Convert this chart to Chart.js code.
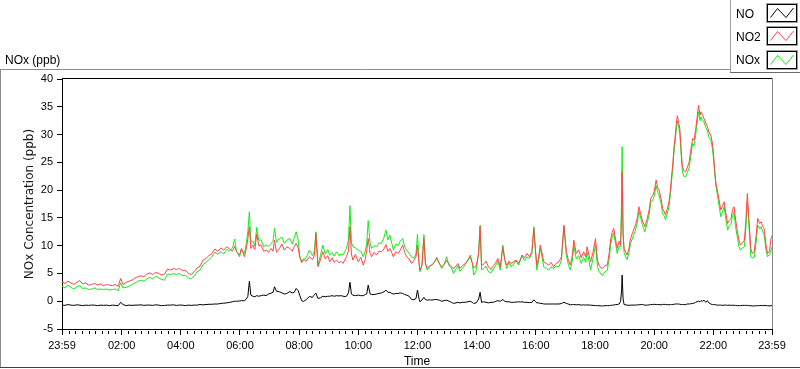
<!DOCTYPE html>
<html>
<head>
<meta charset="utf-8">
<script src="https://cdn.jsdelivr.net/npm/chart.js@4"></script>
<style>
html,body{margin:0;padding:0;background:#fff;}
#wrap{position:relative;width:800px;height:369px;}
</style>
</head>
<body>
<div id="wrap"><canvas id="c" width="800" height="369"></canvas></div>
<script>
// minutes after 23:59 of previous day
const TIME = [
  0,6,12,18,24,30,36,42,48,54,
  60,66,72,78,84,90,96,102,108,114,
  119,124,130,136,142,148,154,160,166,172,
  178,184,190,196,202,208,214,220,226,232,
  238,244,250,256,262,268,274,280,286,292,
  298,304,310,316,322,328,334,340,346,350,
  354,360,364,370,374,377,380,383,387,391,
  395,399,404,409,414,419,424,428,431,435,
  441,446,451,456,462,467,471,475,479,482,
  486,490,495,502,508,512,515,519,524,529,
  534,539,543,548,552,557,562,566,570,574,
  577,581,584,587,590,595,601,606,611,615,
  618,621,625,628,633,638,643,648,653,657,
  661,665,669,672,677,682,686,691,695,699,
  704,709,714,718,721,724,726,730,734,737,
  741,746,750,755,760,765,770,775,780,785,
  790,794,799,803,807,812,818,823,828,832,
  835,840,845,848,851,855,860,865,870,875,
  880,884,889,894,898,902,907,911,916,921,
  926,930,933,938,943,948,953,957,960,963,
  967,970,974,977,982,987,992,997,1002,1008,
  1013,1018,1023,1027,1031,1035,1038,1043,1048,1053,
  1058,1062,1065,1069,1072,1077,1082,1086,1089,1093,
  1096,1101,1106,1110,1113,1116,1119,1123,1126,1130,
  1133,1135,1136,1138,1140,1146,1150,1153,1158,1163,
  1167,1170,1174,1177,1182,1187,1191,1194,1198,1201,
  1205,1208,1211,1215,1218,1221,1224,1228,1231,1234,
  1236,1239,1241,1244,1246,1248,1251,1253,1256,1258,
  1261,1265,1268,1272,1275,1279,1282,1285,1288,1291,
  1294,1296,1299,1302,1306,1309,1312,1316,1319,1321,
  1324,1326,1329,1331,1334,1336,1339,1343,1346,1350,
  1353,1357,1360,1363,1366,1370,1373,1376,1380,1384,
  1387,1390,1393,1397,1400,1404,1408,1411,1415,1418,
  1421,1424,1428,1431,1435,1438,1440
];
const NO = [
  -0.7,-0.75,-0.6,-0.7,-0.75,-0.65,-0.7,-0.8,-0.7,-0.75,
  -0.7,-0.7,-0.8,-0.7,-0.75,-0.7,-0.8,-0.7,-0.75,-0.8,
  -0.2,-0.6,-0.8,-0.7,-0.75,-0.7,-0.7,-0.65,-0.75,-0.7,
  -0.7,-0.75,-0.65,-0.7,-0.8,-0.75,-0.7,-0.7,-0.65,-0.75,
  -0.7,-0.7,-0.8,-0.7,-0.75,-0.7,-0.7,-0.6,-0.65,-0.6,
  -0.55,-0.55,-0.5,-0.5,-0.4,-0.35,-0.3,-0.2,-0.1,0.0,
  0.0,0.05,0.1,0.1,0.4,0.9,3.6,1.1,0.9,0.8,
  1.0,0.9,1.0,1.1,1.0,1.3,1.45,1.6,2.6,1.8,
  1.7,1.5,1.3,1.4,1.75,1.5,1.6,2.3,1.9,1.1,
  0.1,-0.05,0.3,0.85,0.7,1.2,1.45,0.5,0.6,0.9,
  0.8,0.9,0.9,1.0,0.9,1.0,0.95,1.0,0.9,0.85,
  0.9,1.5,3.4,1.3,1.1,1.0,1.1,1.0,1.0,1.2,
  1.3,2.9,1.3,1.2,1.2,1.3,1.4,1.5,1.7,2.0,
  1.6,1.6,1.4,1.3,1.4,1.4,1.5,1.4,1.2,1.1,
  0.9,0.3,0.3,0.5,2.0,0.5,-0.1,0.2,0.7,0.3,
  0.2,0.25,0.2,0.3,0.3,0.2,0.0,0.1,0.2,0.0,
  -0.2,-0.4,-0.3,-0.2,-0.3,-0.2,-0.2,-0.1,0.0,-0.2,
  -0.4,-0.3,0.4,1.6,-0.2,-0.1,-0.2,-0.3,-0.2,-0.2,
  0.0,0.1,0.0,0.3,0.0,-0.1,-0.1,-0.2,-0.2,-0.15,
  -0.1,-0.15,-0.1,-0.2,-0.2,-0.25,-0.2,0.25,0.0,-0.3,
  -0.3,-0.4,-0.4,-0.5,-0.5,-0.5,-0.5,-0.5,-0.5,-0.5,
  -0.4,-0.2,-0.4,-0.5,-0.65,-0.6,-0.6,-0.65,-0.6,-0.7,
  -0.65,-0.7,-0.65,-0.7,-0.7,-0.75,-0.8,-0.8,-0.8,-0.85,
  -0.85,-0.8,-0.8,-0.8,-0.75,-0.7,-0.7,-0.6,-0.6,-0.5,
  0.0,2.0,4.7,0.4,-0.6,-0.7,-0.75,-0.7,-0.7,-0.7,
  -0.65,-0.65,-0.6,-0.6,-0.7,-0.7,-0.65,-0.6,-0.6,-0.55,
  -0.6,-0.6,-0.6,-0.65,-0.6,-0.55,-0.6,-0.6,-0.65,-0.6,
  -0.6,-0.6,-0.55,-0.5,-0.5,-0.5,-0.5,-0.55,-0.6,-0.6,
  -0.6,-0.6,-0.5,-0.5,-0.45,-0.4,-0.35,-0.2,-0.1,0.0,
  -0.1,0.1,0.0,0.2,-0.2,0.1,-0.3,-0.5,-0.6,-0.6,
  -0.6,-0.65,-0.7,-0.7,-0.7,-0.7,-0.75,-0.7,-0.7,-0.75,
  -0.7,-0.75,-0.7,-0.75,-0.75,-0.8,-0.8,-0.8,-0.75,-0.75,
  -0.75,-0.75,-0.8,-0.8,-0.85,-0.85,-0.8,-0.8,-0.8,-0.75,
  -0.8,-0.75,-0.8,-0.8,-0.85,-0.8,-0.8
];
const NO2 = [
  3.5,3.2,3.6,3.3,3.0,3.4,3.7,3.1,3.3,2.9,
  3.0,3.2,2.9,3.1,2.8,3.0,2.9,2.8,3.0,2.7,
  4.1,3.0,3.4,3.6,3.8,4.2,4.4,4.6,4.4,4.9,
  5.1,4.8,5.2,5.0,4.7,4.9,5.8,5.6,5.9,5.7,
  5.9,5.5,5.6,5.0,4.8,5.3,6.0,6.3,7.4,7.7,
  8.2,8.6,9.4,9.0,9.6,9.2,9.8,9.4,9.0,9.9,
  9.0,8.3,9.5,8.0,9.6,11.3,13.4,9.5,10.1,9.3,
  12.1,10.0,10.1,9.0,9.2,8.8,9.5,9.0,11.0,8.8,
  9.5,10.3,9.2,9.8,9.5,9.0,9.8,10.4,9.6,8.0,
  7.1,7.6,7.2,8.0,7.5,8.2,12.2,6.2,7.4,8.9,
  7.6,8.2,7.1,7.8,7.0,7.4,6.9,7.2,6.8,7.5,
  8.0,9.0,13.4,8.5,7.4,8.4,7.1,7.9,6.5,7.5,
  9.2,11.3,8.6,8.0,8.8,8.3,9.0,8.9,9.4,10.2,
  9.0,9.5,8.7,8.0,8.9,8.6,9.2,10.1,8.8,8.0,
  7.6,6.8,7.4,8.0,10.1,7.0,5.6,6.4,11.3,6.8,
  5.9,6.4,6.5,7.0,7.7,6.8,6.2,6.6,7.4,6.6,
  6.2,5.9,6.3,6.8,5.9,6.4,6.8,7.4,8.0,7.0,
  6.0,6.3,8.5,13.4,6.5,6.6,7.2,6.2,5.7,6.4,
  7.0,7.7,6.2,9.8,7.5,6.5,7.2,6.8,7.1,7.4,
  6.8,7.6,8.3,7.8,8.6,8.0,8.9,13.1,9.5,6.5,
  8.1,10.1,8.5,7.1,6.8,6.5,7.0,6.2,6.8,7.1,
  8.0,13.7,8.9,7.4,6.5,8.2,11.0,8.6,9.2,7.8,
  8.9,8.0,9.8,8.2,7.1,8.8,11.3,7.4,6.5,6.0,
  5.9,6.4,6.5,8.8,11.3,12.4,13.1,11.0,9.5,10.8,
  10.1,16.0,23.3,12.0,9.5,8.3,9.5,11.3,12.5,13.7,
  15.0,17.0,15.6,14.6,13.4,14.9,16.5,18.5,19.0,19.7,
  21.8,20.5,20.0,18.5,16.7,16.2,15.5,16.8,17.9,20.0,
  22.1,25.0,27.5,30.0,32.0,33.4,32.0,31.1,27.0,24.5,
  23.5,23.3,24.0,25.1,27.0,29.3,29.0,30.8,33.0,35.3,
  33.5,34.1,33.5,32.9,32.0,31.4,30.5,29.9,28.5,26.9,
  23.5,21.5,20.0,19.1,17.5,16.4,17.0,17.9,16.0,14.0,
  14.5,14.9,16.5,17.0,14.8,12.5,11.0,10.1,10.5,11.0,
  14.5,19.4,15.0,9.5,8.6,8.9,12.0,14.9,14.0,14.3,
  13.5,13.1,10.0,8.6,9.0,11.3,11.8
];
const NOX = [
  2.7,2.4,2.9,2.5,2.2,2.6,2.8,2.3,2.4,2.1,
  2.2,2.4,2.1,2.2,2.1,2.2,2.0,2.1,2.2,1.9,
  3.3,2.4,2.5,2.7,3.0,3.3,3.6,3.8,3.6,4.0,
  4.3,4.0,4.5,4.2,3.9,3.8,4.9,4.8,5.0,4.8,
  5.0,4.6,4.7,4.2,4.0,4.5,5.3,5.6,6.6,7.0,
  7.5,8.0,8.8,8.5,8.9,8.5,9.3,9.1,9.6,11.2,
  9.0,8.0,9.3,8.6,10.5,12.6,16.1,10.7,10.8,10.0,
  13.3,11.0,11.0,9.8,10.1,9.9,10.4,10.8,13.1,10.6,
  11.3,11.5,10.4,11.0,11.3,10.3,11.4,12.5,11.0,8.3,
  6.9,7.5,7.8,9.2,8.2,9.0,12.5,6.5,8.2,10.1,
  8.5,9.3,8.3,8.8,8.1,8.9,8.2,8.5,8.3,9.0,
  9.5,11.0,17.2,10.5,9.8,9.6,9.2,9.0,8.0,9.0,
  10.4,14.5,10.3,9.5,10.0,9.8,10.5,10.4,11.5,12.8,
  11.0,11.9,10.4,9.2,10.3,10.0,10.8,11.3,9.8,9.2,
  8.6,7.9,7.8,8.6,12.1,7.2,5.3,6.5,12.0,6.8,
  5.6,6.3,6.5,7.0,7.9,6.9,5.9,6.6,8.0,6.4,
  6.0,5.0,5.8,6.4,5.4,5.9,6.6,7.3,8.3,6.8,
  4.7,5.5,8.8,13.7,5.6,5.9,6.3,5.3,5.1,5.8,
  6.5,7.2,5.6,10.1,7.5,5.9,7.0,6.2,6.7,7.3,
  6.5,7.4,8.3,7.3,8.0,7.7,8.6,13.4,9.3,5.6,
  7.5,9.5,7.8,6.2,5.9,5.6,6.2,5.9,6.3,6.2,
  7.4,13.4,8.2,6.6,5.6,7.3,10.1,7.6,8.2,6.8,
  7.9,7.0,8.8,7.2,5.6,7.7,10.2,6.3,5.4,4.9,
  4.6,5.3,5.6,7.8,10.3,11.5,12.3,10.2,8.6,9.9,
  9.8,19.0,27.8,12.5,8.7,7.5,8.7,10.4,11.6,12.8,
  14.2,16.2,14.9,13.8,12.5,14.1,15.7,17.7,18.2,18.9,
  20.8,19.6,19.1,17.6,15.8,15.4,14.7,15.9,17.0,19.2,
  21.3,24.2,26.7,29.2,31.2,32.5,31.2,30.2,26.1,23.6,
  22.5,22.4,23.1,24.0,26.0,28.4,28.0,29.8,32.0,34.1,
  32.5,33.2,32.5,32.3,31.2,30.8,29.5,29.0,27.6,26.0,
  22.8,20.9,19.3,18.2,16.4,15.2,16.0,17.0,15.0,12.8,
  13.5,13.8,15.5,16.0,13.5,11.3,9.8,9.2,9.6,9.8,
  13.2,17.9,14.0,8.0,7.8,7.9,10.8,13.7,13.0,13.4,
  12.5,12.0,9.2,8.0,8.4,9.2,9.8
];
const SERIES_LABELS = ['NO', 'NO2', 'NOx'];
const SERIES_COLORS = ['#000000', '#ff4646', '#14ee14'];
const X_TICK_VALUES = [0,121,241,361,481,601,721,841,961,1081,1201,1321,1440];
const X_TICK_LABELS = ['23:59','02:00','04:00','06:00','08:00','10:00','12:00','14:00','16:00','18:00','20:00','22:00','23:59'];
const Y_MIN = -5, Y_MAX = 40, Y_STEP = 5;
const X_MIN = 0, X_MAX = 1440;
const MINOR_PER_MAJOR = 8;

const SERIES = [NO, NO2, NOX];

function line(ctx, x1, y1, x2, y2) {
  ctx.beginPath(); ctx.moveTo(x1, y1); ctx.lineTo(x2, y2); ctx.stroke();
}

const deco = {
  id: 'deco',
  beforeDraw(chart) {
    const ctx = chart.ctx;
    ctx.save();
    ctx.fillStyle = '#ffffff';
    ctx.fillRect(0, 0, chart.width, chart.height);
    ctx.restore();
  },
  afterDraw(chart) {
    const ctx = chart.ctx, a = chart.chartArea, xs = chart.scales.x;
    ctx.save();
    ctx.lineWidth = 1;
    // plot frame: top black, right gray
    ctx.strokeStyle = '#000';
    line(ctx, a.left, Math.round(a.top) - 0.5, a.right, Math.round(a.top) - 0.5);
    ctx.strokeStyle = '#8a8a8a';
    line(ctx, Math.round(a.right) + 0.5, a.top - 1, Math.round(a.right) + 0.5, a.bottom);
    // minor ticks on the time axis
    ctx.strokeStyle = '#000';
    for (let i = 0; i < X_TICK_VALUES.length - 1; i++) {
      const v0 = X_TICK_VALUES[i], v1 = X_TICK_VALUES[i + 1];
      for (let k = 1; k <= MINOR_PER_MAJOR; k++) {
        const v = v0 + (v1 - v0) * k / (MINOR_PER_MAJOR + 1);
        const px = Math.round(xs.getPixelForValue(v)) + 0.5;
        line(ctx, px, a.bottom + 2, px, a.bottom + 5);
      }
    }
    // outer frame
    ctx.strokeStyle = '#8c8c8c';
    line(ctx, 0, 69.5, 731, 69.5);
    line(ctx, 0.5, 69, 0.5, 368);
    ctx.strokeStyle = '#404040';
    line(ctx, 0, 367.5, 800, 367.5);
    // header label
    ctx.fillStyle = '#000';
    ctx.font = '12px "Liberation Sans"';
    ctx.textAlign = 'left';
    ctx.textBaseline = 'alphabetic';
    ctx.fillText('NOx (ppb)', 5, 64);
    // legend
    ctx.strokeStyle = '#a0a0a0';
    line(ctx, 730.5, 0, 730.5, 73);
    ctx.strokeStyle = '#6a6a6a';
    line(ctx, 730, 72.5, 800, 72.5);
    chart.data.datasets.forEach((ds, i) => {
      const base = 17.5 + i * 23.3;
      ctx.fillStyle = '#000';
      ctx.font = '12px "Liberation Sans"';
      ctx.fillText(ds.label, 736, base);
      const bx = 767.5, by = Math.round(4 + i * 23.3) + 0.5, bw = 29, bh = 17;
      ctx.strokeStyle = '#a0a0a0';
      ctx.strokeRect(bx - 1, by - 1, bw + 2, bh + 2);
      ctx.strokeStyle = '#000';
      ctx.strokeRect(bx, by, bw, bh);
      ctx.strokeStyle = ds.borderColor;
      ctx.beginPath();
      ctx.moveTo(bx + 3, by + 13);
      ctx.lineTo(bx + 10, by + 4);
      ctx.lineTo(bx + 18.5, by + 13);
      ctx.lineTo(bx + 26, by + 3.5);
      ctx.stroke();
    });
    ctx.restore();
  }
};

new Chart(document.getElementById('c'), {
  type: 'line',
  data: {
    datasets: SERIES_LABELS.map((lab, s) => ({
      label: lab,
      data: TIME.map((t, i) => ({ x: t, y: SERIES[s][i] })),
      borderColor: SERIES_COLORS[s],
      backgroundColor: SERIES_COLORS[s],
      borderWidth: 1,
      pointRadius: 0,
      tension: 0,
      fill: false
    }))
  },
  options: {
    responsive: false,
    animation: false,
    devicePixelRatio: 1,
    events: [],
    layout: { padding: { top: 79, right: 28, bottom: 0, left: 0 } },
    plugins: { legend: { display: false }, tooltip: { enabled: false } },
    scales: {
      x: {
        type: 'linear', min: X_MIN, max: X_MAX,
        afterBuildTicks: s => { s.ticks = X_TICK_VALUES.map(v => ({ value: v })); },
        afterFit: s => { s.height = 40; },
        ticks: {
          autoSkip: false, maxRotation: 0, minRotation: 0, padding: 4, color: '#000',
          font: { family: '"Liberation Sans"', size: 11 },
          callback: (v, i) => X_TICK_LABELS[i]
        },
        grid: { display: true, drawOnChartArea: false, drawTicks: true, tickLength: 6, color: '#000', tickColor: '#000' },
        border: { display: true, color: '#000', width: 1 },
        title: { display: true, text: 'Time', color: '#000', font: { family: '"Liberation Sans"', size: 12 }, padding: { top: 0, bottom: 0 } }
      },
      y: {
        min: Y_MIN, max: Y_MAX,
        afterFit: s => { s.width = 62; },
        ticks: { stepSize: Y_STEP, padding: 4, color: '#000', font: { family: '"Liberation Sans"', size: 11 } },
        grid: { display: true, drawOnChartArea: false, drawTicks: true, tickLength: 5, color: '#000', tickColor: '#000' },
        border: { display: true, color: '#000', width: 1 },
        title: { display: true, text: 'NOx Concentration (ppb)', color: '#1a1a1a', font: { family: '"DejaVu Sans"', size: 12 }, padding: { top: 23, bottom: 0 } }
      }
    }
  },
  plugins: [deco]
});
</script>
</body>
</html>
